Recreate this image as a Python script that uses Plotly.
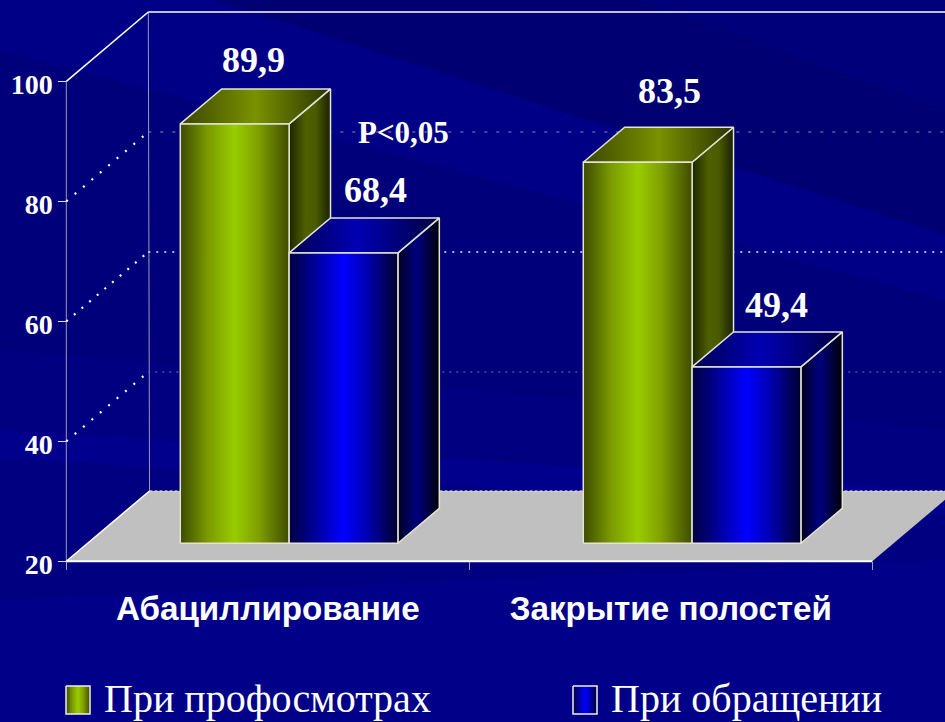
import plotly.graph_objects as go

# ---- data ----
categories = ["Абациллирование", "Закрытие полостей"]
series_names = ["При профосмотрах", "При обращении"]
profosmotr = [89.9, 83.5]
obrashchenie = [68.4, 49.4]
y_ticks = [20, 40, 60, 80, 100]
p_label = "P<0,05"
# label offsets in px (x, y) from the top-back centre of each bar
label_shift = [[(-23, 7), (-9, 6)], [(-10, 14), (-11, 5)]]

W, H = 945, 722
PX_X0, PX_CAT = 66.3, 403.0     # px of category 0, px per category
PX_Y20, PX_UNIT = 561.3, 6.0    # px of value 20, px per value unit
DEPTH_PX = 69.3
DX, DY = 82 / PX_CAT, DEPTH_PX / PX_UNIT   # full oblique depth in data units
BAR_W = 0.27
D_FRONT, D_BACK = 18 / DEPTH_PX, 53 / DEPTH_PX

x_range = [(0 - PX_X0) / PX_CAT, (W - PX_X0) / PX_CAT]
y_range = [20 + (PX_Y20 - H) / PX_UNIT, 20 + PX_Y20 / PX_UNIT]


def proj(x, v, d):
    return x + DX * d, v + DY * d


def poly(pts):
    xs = [p[0] for p in pts] + [pts[0][0]]
    ys = [p[1] for p in pts] + [pts[0][1]]
    return xs, ys


def grad(stops):
    return dict(type="horizontal", colorscale=stops)


GREEN = dict(
    front=[[0, "#3d4a00"], [0.25, "#7a9a00"], [0.5, "#99cc00"], [0.72, "#7f9f00"], [1, "#3f4c00"]],
    top=[[0, "#3a4600"], [0.5, "#7a9200"], [1, "#2a3200"]],
    side=[[0, "#1c2600"], [0.4, "#4f6000"], [0.65, "#4a5a00"], [1, "#182000"]],
)
BLUE = dict(
    front=[[0, "#000040"], [0.25, "#0000a0"], [0.5, "#0000ff"], [0.72, "#0000b0"], [1, "#00002c"]],
    top=[[0, "#000050"], [0.45, "#0000b4"], [1, "#000040"]],
    side=[[0, "#000020"], [0.45, "#00007f"], [1, "#000008"]],
)
EDGE = "#e4e4d4"

fig = go.Figure()


def face(pts, stops, edge=EDGE, width=1.5):
    xs, ys = poly(pts)
    fig.add_trace(go.Scatter(x=xs, y=ys, mode="lines", fill="toself",
                             fillgradient=grad(stops),
                             line=dict(color=edge, width=width),
                             hoverinfo="skip", showlegend=False))


def line(xs, ys, color, width=1, dash="solid"):
    fig.add_trace(go.Scatter(x=xs, y=ys, mode="lines",
                             line=dict(color=color, width=width, dash=dash),
                             hoverinfo="skip", showlegend=False))


# ---- walls and floor ----
x_min, x_max = 0, 2
v0 = y_ticks[0]
floor = [proj(x_min, v0, 0), proj(x_max, v0, 0), proj(x_max, v0, 1.015), proj(x_min, v0, 1.015)]
xs, ys = poly(floor)
fig.add_trace(go.Scatter(x=xs, y=ys, mode="lines", fill="toself", fillcolor="#c0c0c0",
                         line=dict(color="rgba(0,0,0,0)", width=0),
                         hoverinfo="skip", showlegend=False))

line([x_min, x_min], [v0, y_ticks[-1]], "#9a9ab0", 1)
bx0, by0 = proj(x_min, v0, 1.015)
bx1, by1 = proj(x_min, y_ticks[-1], 1)
line([bx0, bx1], [by0, by1], "#9a9ab0", 1)

grid_style = {
    100: ("#ffffff", 1.6, "solid", "#ffffff", 1.6, "solid"),
    80: ("#ffffff", 2.2, "2px,9px", "#8c8ca8", 1, "3px,9px"),
    60: ("#ffffff", 2.2, "2px,8px", "#f0f0ff", 1.5, "2px,6px"),
    40: ("#ffffff", 2.2, "2px,9px", "#7474a8", 1, "2px,5px"),
}
for v in y_ticks[1:]:
    c1, w1, d1, c2, w2, d2 = grid_style[v]
    ax, ay = proj(x_min, v, 0)
    bx, by = proj(x_min, v, 1)
    cx, cy = proj(x_max, v, 1)
    line([ax, bx], [ay, by], c1, w1, d1)
    line([bx, cx], [by, cy], c2, w2, d2)

# back floor edge and side edges
line([floor[3][0], floor[2][0]], [floor[3][1], floor[2][1]], "#e8e8f0", 1, "3px,2px")
line([floor[0][0], floor[3][0]], [floor[0][1], floor[3][1]], "#ffffff", 1.5)
line([floor[0][0], floor[1][0]], [floor[0][1], floor[1][1]], "#ffffff", 2)

# ---- bars ----
for i in range(len(categories)):
    for s, (vals, pal) in enumerate(((profosmotr, GREEN), (obrashchenie, BLUE))):
        x0 = i + 0.5 - BAR_W + s * BAR_W
        x1 = x0 + BAR_W
        v = vals[i]
        f = [proj(x0, v0, D_FRONT), proj(x1, v0, D_FRONT), proj(x1, v, D_FRONT), proj(x0, v, D_FRONT)]
        side = [proj(x1, v0, D_FRONT), proj(x1, v0, D_BACK), proj(x1, v, D_BACK), proj(x1, v, D_FRONT)]
        top = [proj(x0, v, D_FRONT), proj(x1, v, D_FRONT), proj(x1, v, D_BACK), proj(x0, v, D_BACK)]
        face(side, pal["side"])
        face(top, pal["top"])
        face(f, pal["front"])

# ---- annotations ----
annotations = []
serif_b = dict(family="Liberation Serif", color="white", weight=700)
for i in range(len(categories)):
    for s, vals in enumerate((profosmotr, obrashchenie)):
        v = vals[i]
        cx = i + 0.5 - BAR_W / 2 + s * BAR_W
        ax, ay = proj(cx, v, D_BACK)
        sx, sy = label_shift[i][s]
        annotations.append(dict(x=ax, y=ay, xref="x", yref="y", text=f"{v:.1f}".replace(".", ","),
                                showarrow=False, xanchor="center", yanchor="bottom",
                                xshift=sx, yshift=sy, font=dict(size=36, **serif_b)))

annotations.append(dict(x=403 / W, y=1 - 132 / H, xref="paper", yref="paper", text=p_label,
                        showarrow=False, xanchor="center", yanchor="middle",
                        font=dict(size=31, **serif_b)))

# ---- legend keys ----
legend_px = [(66, 90, 102), (573, 597, 609)]
LEG_TOP, LEG_BOT = 686, 714


def px2x(p):
    return (p - PX_X0) / PX_CAT + 0


def px2y(p):
    return 20 + (PX_Y20 - p) / PX_UNIT


for (a, b, t), name, pal in zip(legend_px, series_names, (GREEN, BLUE)):
    fig.add_trace(go.Scatter(
        x=[px2x(a), px2x(b), px2x(b), px2x(a), px2x(a)],
        y=[px2y(LEG_TOP), px2y(LEG_TOP), px2y(LEG_BOT), px2y(LEG_BOT), px2y(LEG_TOP)],
        mode="lines", fill="toself", fillgradient=grad(pal["front"]),
        line=dict(color="#f0f0e8", width=1.5), name=name, hoverinfo="skip", showlegend=False))
    annotations.append(dict(x=t / W, y=1 - 698 / H, xref="paper", yref="paper", text=name,
                            showarrow=False, xanchor="left", yanchor="middle",
                            font=dict(size=40, family="Liberation Serif", color="white")))

# ---- background bands ----
def band(pts, color):
    d = "M" + " L".join(f"{x / W:.5f},{1 - y / H:.5f}" for x, y in pts) + " Z"
    return dict(type="path", path=d, xref="paper", yref="paper", fillcolor=color,
                line=dict(width=0), layer="below")


shapes = [
    band([(215, 0), (945, 0), (945, 235)], "#000072"),
    band([(0, 0), (215, 0), (945, 235), (945, 300), (0, 50)], "#000086"),
    band([(640, 0), (945, 0), (945, 110)], "#00007a"),
    band([(0, 50), (945, 300), (945, 430), (0, 350)], "#00007a"),
    band([(0, 350), (945, 430), (945, 520), (0, 430)], "#000080"),
    band([(0, 430), (945, 490), (945, 515), (0, 458)], "#00008c"),
    band([(0, 600), (945, 560), (945, 722), (0, 722)], "#000088"),
]

fig.update_layout(
    width=W, height=H, margin=dict(l=0, r=0, t=0, b=0),
    paper_bgcolor="#000080", plot_bgcolor="rgba(0,0,0,0)",
    showlegend=False, shapes=shapes, annotations=annotations,
    xaxis=dict(range=x_range, tickvals=[0.5, 1.5], ticktext=categories, ticks="",
               showgrid=False, zeroline=False, showline=False,
               anchor="free", position=1 - PX_Y20 / H, ticklabelstandoff=24,
               tickfont=dict(family="Liberation Sans", size=33.2, color="white", weight=700),
               minor=dict(tickvals=[0, 1, 2], ticks="outside", ticklen=8, tickcolor="#a0a0b8",
                          tickwidth=1, showgrid=False)),
    yaxis=dict(range=y_range, tickvals=y_ticks, ticks="outside", ticklen=8, tickcolor="#e0e0e8",
               tickwidth=1, showgrid=False, zeroline=False, showline=False,
               anchor="free", position=PX_X0 / W, ticklabelshift=3,
               tickfont=dict(family="Liberation Serif", size=28, color="white", weight=700)),
)
fig.write_html("out.html", config=dict(displayModeBar=False),
               post_script="document.body.style.margin='0';")
